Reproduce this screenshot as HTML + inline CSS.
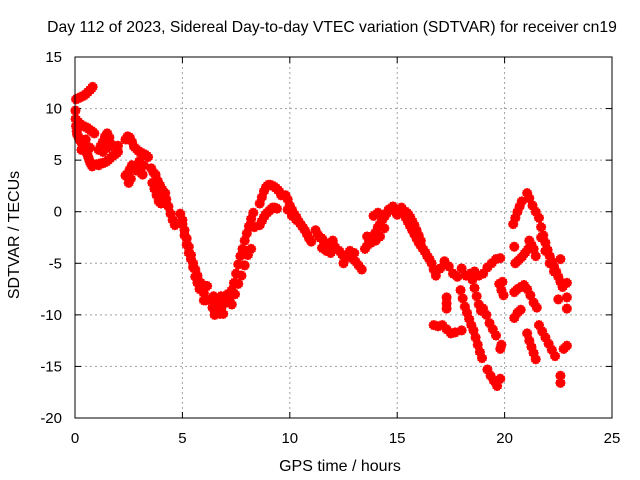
<!DOCTYPE html>
<html><head><meta charset="utf-8"><style>
body{margin:0;background:#fff;}
svg{display:block;font-family:"Liberation Sans",sans-serif;}
</style></head><body>
<svg id="chart" width="640" height="480">
<text x="332" y="32" font-size="15.7" text-anchor="middle">Day 112 of 2023, Sidereal Day-to-day VTEC variation (SDTVAR) for receiver cn19</text>
<text x="340" y="471" font-size="16" text-anchor="middle">GPS time / hours</text>
<text transform="translate(19,235) rotate(-90)" font-size="16" text-anchor="middle">SDTVAR / TECUs</text>
<g id="grid"></g>
<g id="ticks"></g>
<g id="points"></g>
<rect x="75" y="57" width="537" height="361" fill="none" stroke="#000" stroke-width="1"/>
</svg>
<script>
const xTicks=[0,5,10,15,20,25];
const yTicks=[15,10,5,0,-5,-10,-15,-20];
const hours=[
0.05,0.15,0.25,0.35,0.45,0.55,0.65,0.75,0.82,
0.02,0.03,0.05,0.08,0.1,0.15,0.2,0.25,0.3,0.35,0.4,0.45,0.5,0.55,0.6,0.65,0.7,0.75,0.8,
0.1,0.2,0.3,0.4,0.5,0.6,0.7,0.8,0.9,0.3,0.5,0.7,
1.1,1.2,1.3,1.4,1.5,1.6,1.7,1.8,1.9,2.0,1.5,1.3,
1.0,1.1,1.2,1.3,1.4,1.5,1.6,1.7,1.8,1.9,2.0,
2.35,2.45,2.55,2.65,2.75,2.9,3.0,3.1,3.2,3.3,3.4,
2.35,2.45,2.55,2.65,2.75,2.85,2.95,3.05,3.15,2.5,2.6,3.0,3.2,
3.55,3.65,3.75,3.85,3.95,4.05,4.15,4.25,4.35,4.45,4.55,4.65,
3.6,3.7,3.8,3.9,4.0,4.1,4.2,
4.9,5.0,5.1,5.2,5.3,5.4,5.5,5.6,5.7,5.8,5.9,6.0,6.1,
5.0,5.1,5.2,5.3,5.4,5.5,5.6,5.7,5.8,5.9,6.0,
6.15,6.3,6.4,6.5,6.6,6.7,6.8,6.9,7.0,7.1,6.45,6.6,6.75,6.9,6.5,6.8,
7.2,7.3,7.4,7.5,7.6,7.7,7.8,7.9,8.0,8.1,8.2,8.3,8.35,
7.3,7.45,7.6,7.75,7.9,8.05,8.2,
8.6,8.7,8.8,8.9,9.0,9.1,9.2,9.3,9.4,9.5,9.6,
8.6,8.7,8.8,8.9,9.0,9.1,9.2,9.3,9.4,
9.8,9.9,10.0,10.1,10.2,10.3,10.4,10.5,10.6,10.7,10.8,10.9,11.0,9.9,10.1,10.3,
11.2,11.3,11.4,11.5,11.6,11.7,11.8,11.9,12.0,12.1,11.5,11.7,11.9,
12.3,12.45,12.6,12.75,12.9,13.05,13.2,13.35,12.5,12.8,13.0,
13.5,13.6,13.7,13.8,13.9,14.0,14.1,14.2,14.3,14.4,14.5,14.6,14.7,14.8,14.9,15.0,
13.6,13.8,14.0,14.2,14.4,13.9,14.1,14.3,
15.2,15.3,15.4,15.5,15.6,15.7,15.8,15.9,16.0,16.1,16.2,16.3,16.4,16.5,16.6,16.7,16.8,
15.4,15.5,15.6,15.7,15.8,15.9,16.0,16.1,
17.0,17.2,17.4,17.6,17.8,18.0,18.2,18.4,18.6,18.8,19.0,19.2,19.4,19.6,19.8,19.9,
16.7,16.9,17.1,17.3,17.5,17.7,17.3,17.3,17.3,18.0,
17.95,18.05,18.15,18.25,18.35,18.45,
18.5,18.6,18.7,18.8,18.9,
19.0,19.15,19.3,19.45,19.6,
18.55,18.65,18.75,18.85,18.95,
19.2,19.35,19.5,19.65,19.8,19.85,19.8,
19.75,19.85,19.95,
20.45,20.6,20.75,20.9,
20.45,20.6,20.75,
20.4,20.5,20.6,20.7,20.8,20.45,
20.5,20.65,20.8,20.95,21.1,
21.05,21.15,21.3,21.45,
21.15,21.25,21.35,21.45,
21.05,21.2,21.35,21.5,
21.05,21.15,21.25,21.35,21.45,
21.6,21.7,21.8,21.9,22.0,22.1,22.2,22.3,22.4,22.5,22.6,22.7,
21.7,21.9,22.1,22.3,
21.6,21.75,21.9,22.05,22.2,22.35,
22.9,22.9,22.9,22.5,22.6,22.9,22.6,22.6,22.75
];
const vtec=[
10.9,11.0,11.1,11.2,11.3,11.5,11.7,11.9,12.1,
9.8,9,8.3,7.8,7.5,7.3,7.0,6.9,6.7,6.5,6.3,6.6,6.0,5.7,5.4,5.1,4.8,4.6,4.4,
8.8,8.6,8.4,8.3,8.2,8.1,7.9,7.8,7.6,6.0,7.0,6.2,
6.0,6.4,6.8,7.3,7.6,7.2,6.5,6.4,6.3,6.4,6.2,5.8,
4.6,4.5,4.7,4.7,4.8,4.9,5.1,5.3,5.5,5.6,5.8,
7.0,7.3,7.2,6.8,6.3,6.0,5.8,5.7,5.6,5.5,5.3,
3.5,3.7,4.1,4.5,4.4,4.0,4.2,3.8,3.6,2.8,3.2,4.9,4.5,
4.2,3.8,3.6,3.0,2.6,2.2,1.7,1.2,0.5,-0.2,-0.8,-1.3,
2.8,2.2,1.6,1.0,0.8,1.2,1.8,
-0.2,-0.8,-1.8,-2.6,-3.4,-4.2,-5.0,-5.6,-6.2,-6.8,-7.4,-7.9,-8.6,
-1.2,-2.3,-3.2,-4.0,-4.6,-5.4,-6.3,-6.9,-7.5,-7.0,-8.6,
-7.2,-8.5,-9.3,-9.6,-9.8,-9.6,-9.4,-9.0,-8.6,-8.0,-8.2,-8.8,-9.9,-9.9,-10.0,-8.2,
-8.3,-7.6,-6.9,-6.0,-5.1,-4.3,-3.6,-2.8,-2.1,-1.4,-0.7,-0.1,-1.5,
-9.0,-8.0,-7.0,-6.2,-5.2,-4.2,-3.6,
0.8,1.4,2.0,2.4,2.6,2.6,2.5,2.4,2.2,2.0,1.6,
-1.3,-0.9,-0.5,-0.2,0.0,0.2,0.4,0.4,0.3,
1.6,1.2,0.6,0.2,-0.2,-0.5,-0.9,-1.2,-1.5,-1.8,-2.2,-2.6,-2.9,0.2,-0.4,-0.8,
-1.8,-2.2,-2.5,-2.6,-2.9,-3.2,-3.4,-3.8,-2.8,-3.4,-3.5,-3.8,-4.0,
-3.8,-4.2,-4.5,-4.3,-4.5,-4.8,-5.2,-5.6,-5.0,-3.8,-4.0,
-3.6,-3.3,-2.8,-2.5,-2.3,-2.0,-1.5,-1.2,-0.8,-0.5,-0.2,0.2,0.3,0.5,0.0,-0.3,
-2.4,-3.0,-2.8,-2.4,-1.6,-0.4,-0.1,-0.3,
0.4,-0.1,-0.6,-1.0,-1.4,-1.8,-2.2,-2.6,-3.0,-3.3,-3.6,-3.9,-4.3,-4.6,-5.0,-5.6,-6.2,
0.0,-0.2,-0.5,-0.9,-1.3,-1.8,-2.3,-2.8,
-5.5,-4.8,-5.3,-6.0,-6.3,-5.5,-6.2,-6.0,-5.8,-6.2,-6.0,-5.4,-5.0,-4.6,-4.5,-6.8,
-11.0,-11.1,-11.0,-11.4,-11.8,-11.7,-8.3,-8.9,-9.4,-11.5,
-7.6,-8.4,-9.2,-9.8,-10.4,-11.0,
-6.6,-7.4,-8.2,-9.0,-9.6,
-9.4,-10.0,-10.8,-11.4,-12.0,
-11.5,-12.2,-12.9,-13.6,-14.2,
-15.3,-15.9,-16.4,-16.9,-16.2,-12.9,-13.3,
-7.0,-7.6,-8.1,
-7.8,-7.5,-7.3,-7.1,
-10.3,-9.8,-9.5,
-1.2,-0.6,0.0,0.5,1.0,-3.4,
-5.0,-4.7,-4.4,-4.0,-3.6,
1.8,1.3,0.6,0.0,
-2.8,-3.2,-3.6,-4.3,
-7.5,-8.1,-8.8,-9.3,
-11.8,-12.5,-13.1,-13.7,-14.3,
-0.6,-1.5,-2.3,-3.0,-3.7,-4.3,-4.8,-5.3,-5.8,-6.3,-6.8,-7.3,
-2.5,-3.8,-5.0,-5.8,
-11.0,-11.6,-12.2,-12.8,-13.4,-14.0,
-6.9,-8.3,-9.4,-8.5,-4.6,-13.0,-15.9,-16.6,-13.3
];
const NS='http://www.w3.org/2000/svg';
const X0=75,X1=612,Y0=418,Y1=57;
function xs(h){return X0+(h-0)/(25-0)*(X1-X0);}
function ys(v){return Y0-(v-(-20))/(15-(-20))*(Y0-Y1);}
function mk(tag,attrs,parent){const e=document.createElementNS(NS,tag);for(const k in attrs)e.setAttribute(k,attrs[k]);parent.appendChild(e);return e;}
const grid=document.getElementById('grid'),ticks=document.getElementById('ticks'),pts=document.getElementById('points'),svg=document.getElementById('chart');
xTicks.forEach(t=>{
  const x=xs(t);
  if(t>0&&t<25){const g=mk('line',{x1:x,x2:x,y1:Y1,y2:Y0,stroke:'#a0a0a0','stroke-dasharray':'2,3'},grid);
    
    }
  mk('line',{x1:x,x2:x,y1:Y0,y2:Y0-6,stroke:'#000'},ticks);
  mk('line',{x1:x,x2:x,y1:Y1,y2:Y1+6,stroke:'#000'},ticks);
  const l=mk('text',{x:x,y:443,'font-size':'15','text-anchor':'middle'},svg);
  l.textContent=t;
  
  
});
yTicks.forEach(t=>{
  const y=ys(t);
  if(t<15&&t>-20){const g=mk('line',{x1:X0,x2:X1,y1:y,y2:y,stroke:'#a0a0a0','stroke-dasharray':'2,3'},grid);
    
    }
  mk('line',{x1:X0,x2:X0+6,y1:y,y2:y,stroke:'#000'},ticks);
  mk('line',{x1:X1,x2:X1-6,y1:y,y2:y,stroke:'#000'},ticks);
  const l=mk('text',{x:62,y:y+5,'font-size':'15','text-anchor':'end'},svg);
  l.textContent=t;
  
  
});
hours.forEach((h,i)=>{
  const x=xs(h),y=ys(vtec[i]);
  const p=mk('path',{d:`M${x-5},${y}h10M${x},${y-5}v10M${x-4.5},${y+2}h9M${x-4.5},${y-2}h9M${x+2},${y-4.5}v9M${x-2},${y-4.5}v9`,stroke:'#ff0000','stroke-width':'2',fill:'none'},pts);
  
  
});
</script>
</body></html>
